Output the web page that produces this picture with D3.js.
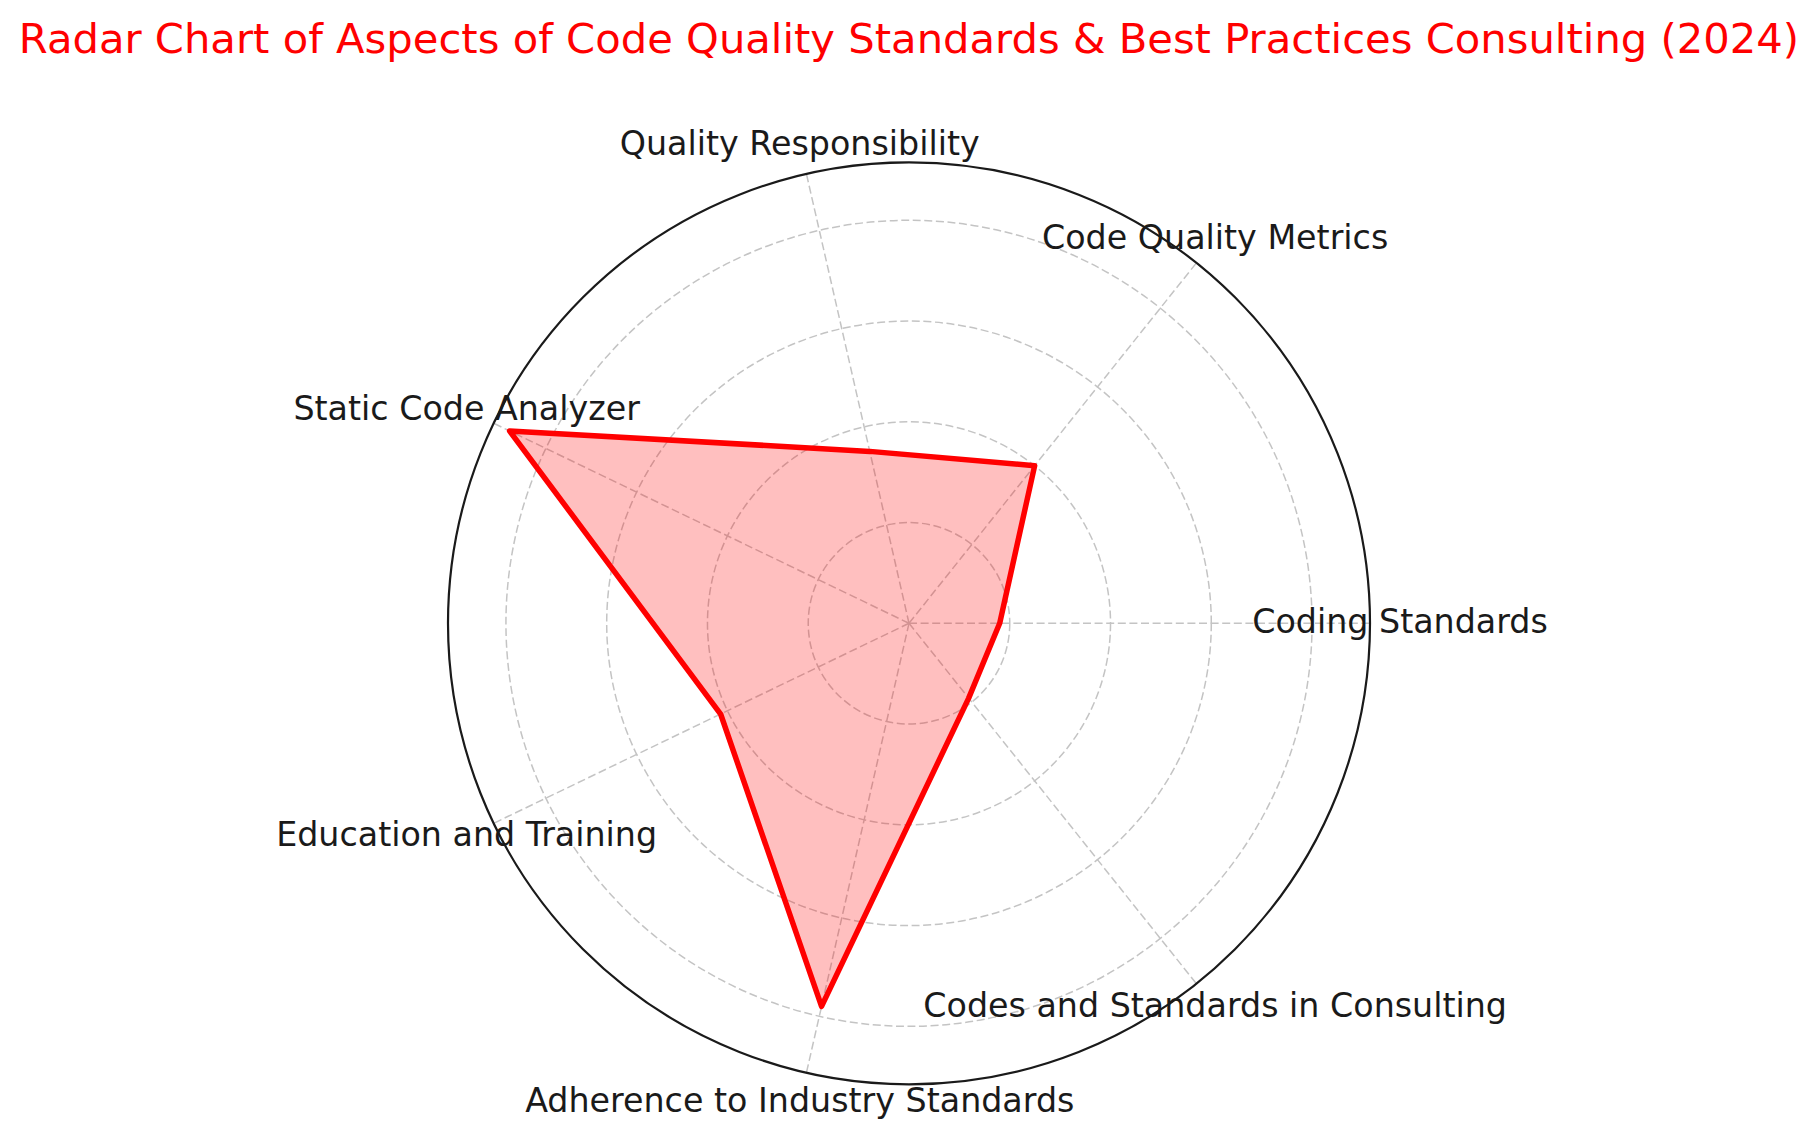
<!DOCTYPE html>
<html>
<head>
<meta charset="utf-8">
<script src="https://cdn.jsdelivr.net/npm/d3@7"></script>
<style>
    body { margin: 0; background: #fff; }
    text { font-family: "DejaVu Sans", sans-serif; }
</style>
</head>
<body>
<div id="radar"></div>
<script>
// ******************** data ********************

// the aspects, in order, starting at 3 o'clock going counter clockwise
const categories = [
    "Coding Standards",
    "Code Quality Metrics",
    "Quality Responsibility",
    "Static Code Analyzer",
    "Education and Training",
    "Adherence to Industry Standards",
    "Codes and Standards in Consulting"
];

// score for each aspect
const values = [18, 40, 35, 88, 41.5, 78, 19];

// radial gridline values (labels are hidden in the original)
const radialTicks = [20, 40, 60, 80];

// ******************** chart ********************

// basic svg setup
const width  = 1818;  // total svg width
const height = 1139;  // total svg height
const cx = 909;       // centre of the polar axes
const cy = 623.3;
const outerR = 461;   // radius of the outer circle

const svg = d3.select("#radar")
    .append("svg")
    .attr("width", width)
    .attr("height", height);

// title on top
svg.append("text")
    .attr("x", cx)
    .attr("y", 52.7)
    .attr("text-anchor", "middle")
    .attr("fill", "#ff0000")
    .style("font-size", "41.7px")
    .text("Radar Chart of Aspects of Code Quality Standards & Best Practices Consulting (2024)");

// radius scale, top end gets a 5% margin of the data range like matplotlib
const vMin = d3.min(values);
const vMax = d3.max(values);
const rMax = vMax + 0.05 * (vMax - vMin);
const r = d3.scaleLinear().domain([0, rMax]).range([0, outerR]);

// angle for each category (math angle, counter clockwise from east)
const angle = d3.scaleLinear().domain([0, categories.length]).range([0, 2 * Math.PI]);

const g = svg.append("g").attr("transform", `translate(${cx},${cy})`);

// dashed rings
g.selectAll(".ring")
    .data(radialTicks)
    .enter()
    .append("circle")
    .attr("class", "ring")
    .attr("r", d => r(d))
    .attr("fill", "none")
    .attr("stroke", "#c4c4c4")
    .attr("stroke-width", 1.5)
    .attr("stroke-dasharray", "8,3.6");

// dashed spokes from the centre to the outer circle
g.selectAll(".spoke")
    .data(categories)
    .enter()
    .append("line")
    .attr("class", "spoke")
    .attr("x1", 0)
    .attr("y1", 0)
    .attr("x2", (d, i) => r(rMax) * Math.cos(angle(i)))
    .attr("y2", (d, i) => -r(rMax) * Math.sin(angle(i)))
    .attr("stroke", "#c4c4c4")
    .attr("stroke-width", 1.5)
    .attr("stroke-dasharray", "8,3.6");

// the polygon, d3 radial angles go clockwise from 12 o'clock so convert
const radarLine = d3.lineRadial()
    .angle((d, i) => Math.PI / 2 - angle(i))
    .radius(d => r(d))
    .curve(d3.curveLinearClosed);

// filled area
g.append("path")
    .datum(values)
    .attr("d", radarLine)
    .attr("fill", "#ff0000")
    .attr("fill-opacity", 0.25)
    .attr("stroke", "none");

// outline
g.append("path")
    .datum(values)
    .attr("d", radarLine)
    .attr("fill", "none")
    .attr("stroke", "#ff0000")
    .attr("stroke-width", 5.5)
    .attr("stroke-linejoin", "round");

// outer circle (the polar spine)
g.append("circle")
    .attr("r", r(rMax))
    .attr("fill", "none")
    .attr("stroke", "#1a1a1a")
    .attr("stroke-width", 2.2);

// category labels just outside the circle
const labelR = outerR + 30;
g.selectAll(".cat-label")
    .data(categories)
    .enter()
    .append("text")
    .attr("class", "cat-label")
    .attr("x", (d, i) => labelR * Math.cos(angle(i)))
    .attr("y", (d, i) => -labelR * Math.sin(angle(i)) + 10)
    .attr("text-anchor", "middle")
    .attr("fill", "#1a1a1a")
    .style("font-size", "33.3px")
    .text(d => d);
</script>
</body>
</html>
